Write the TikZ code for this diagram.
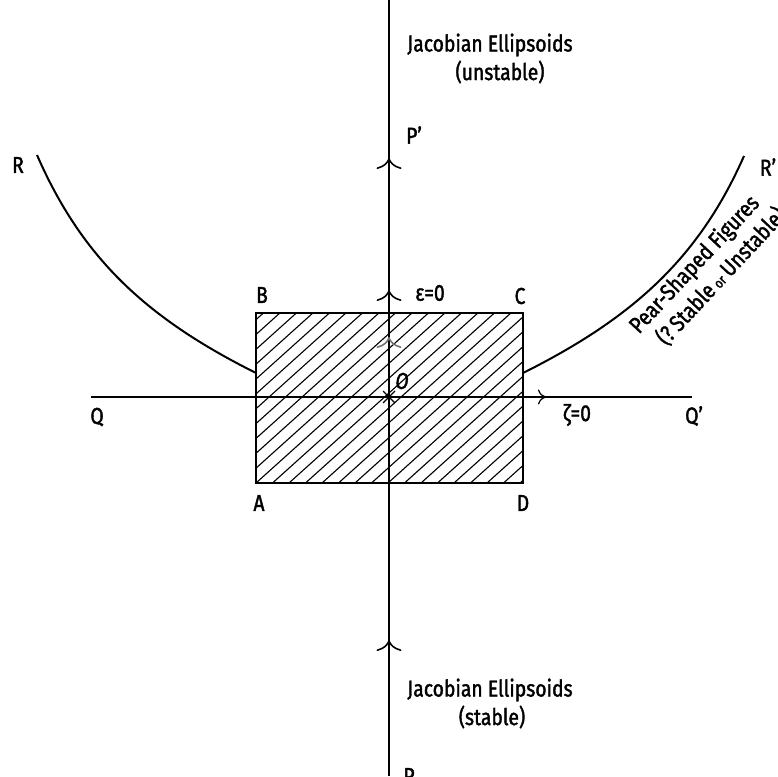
\documentclass[tikz,border=0pt]{standalone}
\usepackage{fontspec}
\setmainfont{Fira Sans}[FakeStretch=0.84,FakeBold=1.6]
\usetikzlibrary{arrows.meta,decorations.markings,calc}
\begin{document}
\begin{tikzpicture}[x=1pt,y=-1pt,
  lbl/.style={font=\fontsize{23}{26}\selectfont,inner sep=0pt},
  vaxis/.style={line width=2.6pt},
  haxis/.style={line width=1.3pt},
  curvestyle/.style={line width=2pt},
  hatchstyle/.style={line width=1.1pt},
  boxstyle/.style={line width=1.8pt},
  vtip/.tip={Computer Modern Rightarrow[length=11pt,width=25pt,line width=1.6pt]},
  htip/.tip={Computer Modern Rightarrow[length=8pt,width=15pt,line width=1.2pt]}]
\useasboundingbox (0,0) rectangle (778,776);

% coordinates
\coordinate (Ptop) at (389,0);
\coordinate (Pbot) at (389,776);
\coordinate (Qa) at (91,397);
\coordinate (Qb) at (692,397);
\coordinate (A) at (256,483);
\coordinate (B) at (256,313);
\coordinate (C) at (523,313);
\coordinate (D) at (523,483);
\coordinate (O) at (389,397);
\coordinate (Lb) at (256,373);
\coordinate (Lt) at (37,155);
\coordinate (Rb) at (523,373);
\coordinate (Rt) at (744,156);

% hatching
\begin{scope}
  \clip (A) rectangle (C);
  \foreach \k in {-12,...,18} {
    \draw[hatchstyle] ({256+\k*16.5},483) -- ++(300,-270);
  }
\end{scope}
\draw[boxstyle] (A) rectangle (C);

% curves
\draw[curvestyle] (Lb) .. controls (146,318) and (82,258) .. (Lt);
\draw[curvestyle] (Rb) .. controls (633,318) and (699,258) .. (Rt);

% horizontal axis
\draw[haxis,postaction={decorate},decoration={markings,
  mark=at position 455pt with {\arrow{htip}}}] (Qa) -- (Qb);

% vertical axis
\draw[vaxis,postaction={decorate},decoration={markings,
  mark=at position 136pt with {\arrow{vtip}},
  mark=at position 439pt with {\arrow[color=black!55]{vtip}},
  mark=at position 486pt with {\arrow{vtip}},
  mark=at position 618pt with {\arrow{vtip}}}] (Pbot) -- (Ptop);

% star at O
\draw[line width=1.2pt] ($(O)+(-6,-6)$) -- ($(O)+(6,6)$);
\draw[line width=1.2pt] ($(O)+(6,-6)$) -- ($(O)+(-6,6)$);

% labels
\node[lbl] (lA) at (259,503) {A};
\node[lbl] (lB) at (262,295) {B};
\node[lbl] (lC) at (520,296) {C};
\node[lbl] (lD) at (523,503) {D};
\node[lbl] (lO) at (402,381) {\itshape O};
\node[lbl] (lQ) at (97,417) {Q};
\node[lbl] (lQp) at (694,416) {Q'};
\node[lbl] (lz) at (577,415) {ζ=0};
\node[lbl] (le) at (430,293) {ε=0};
\node[lbl] (lPp) at (414,135) {P'};
\node[lbl] (lP) at (409,776) {P};
\node[lbl] (lR) at (18,165) {R};
\node[lbl] (lRp) at (768,167) {R'};
\node[lbl] (jtop) at (490,45) {Jacobian Ellipsoids};
\node[lbl] (jtop2) at (500,72) {(unstable)};
\node[lbl] (jbot) at (490,690) {Jacobian Ellipsoids};
\node[lbl] (jbot2) at (492,717) {(stable)};
\node[lbl,rotate=47] (pear) at (695,265) {Pear-Shaped Figures};
\node[lbl,rotate=47] (pear2) at (721,276) {(?\,Stable\,{\fontsize{14}{15}\selectfont or}\,Unstable)};
\end{tikzpicture}
\end{document}
